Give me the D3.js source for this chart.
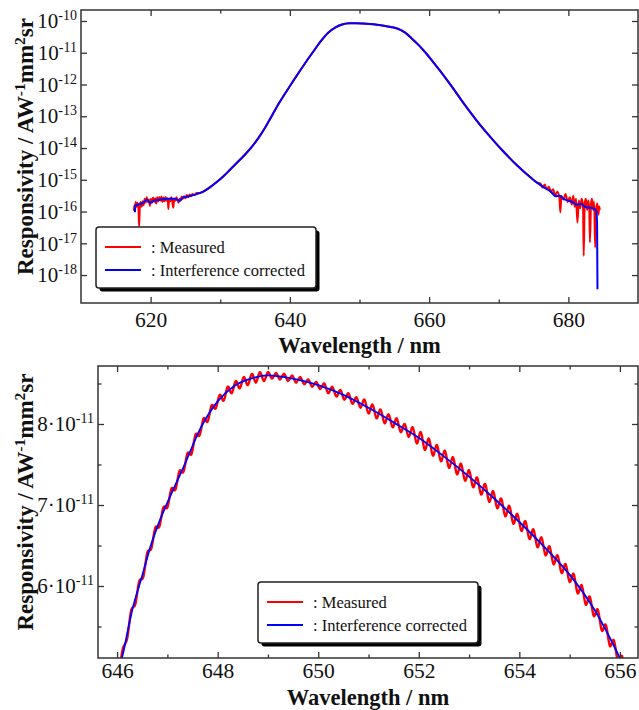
<!DOCTYPE html>
<meta charset="utf-8">
<script src="https://d3js.org/d3.v7.min.js"></script>
<style>
  body { margin: 0; background: #fff; }
  svg { display: block; }
  svg text { font-family: "Liberation Serif", "Times New Roman", serif; }
</style>
<svg id="chart" width="639" height="710"></svg>
<script>
// ---------- upper panel: whole band, log10 of responsivity ----------
var topCorrectedWl = [617.75, 617.8, 618.2, 618.8, 619.5, 619.9, 620.5, 621.5, 622.5, 623.5,
  624.2, 624.6, 625.5, 626.5, 627.5, 628.5, 629.5, 630.5, 631.5, 632.5,
  633.5, 634.5, 635.5, 636.5, 637.5, 638.5, 639.5, 640.5, 641.5, 642.5,
  643.5, 644.5, 645.5, 646.5, 647.5, 648.5, 649.5, 650.5, 651.5, 652.5,
  653.5, 654.5, 655.5, 656.5, 657.5, 658.5, 659.5, 660.5, 661.5, 662.5,
  663.5, 664.5, 665.5, 666.5, 667.5, 668.5, 669.5, 670.5, 671.5, 672.5,
  673.5, 674.5, 675.5, 676.5, 677.5, 678.2, 678.7, 679.3, 680.0, 680.6,
  681.2, 681.8, 682.4, 683.0, 683.6, 684.0, 684.12, 684.18];
var topCorrectedLog = [-16.02, -15.82, -15.78, -15.74, -15.63, -15.72, -15.66, -15.62, -15.6, -15.6,
  -15.66, -15.56, -15.52, -15.46, -15.38, -15.24, -15.07, -14.88, -14.66, -14.44,
  -14.22, -13.97, -13.68, -13.34, -12.95, -12.57, -12.22, -11.88, -11.55, -11.23,
  -10.92, -10.62, -10.37, -10.21, -10.11, -10.072, -10.068, -10.078, -10.096, -10.12,
  -10.15, -10.19, -10.245, -10.36, -10.55, -10.76, -11.0, -11.27, -11.55, -11.84,
  -12.14, -12.45, -12.75, -13.04, -13.32, -13.58, -13.83, -14.07, -14.3, -14.52,
  -14.72, -14.91, -15.09, -15.24, -15.38, -15.52, -15.5, -15.6, -15.66, -15.7,
  -15.78, -15.76, -15.85, -15.88, -15.9, -15.98, -16.35, -18.45];

// measured curve differs from the corrected one only in the noisy wings
var topMeasuredLeftWl = [617.6, 617.65, 617.75, 617.85, 618.0, 618.1, 618.25, 618.35, 618.45, 618.55,
  618.7, 618.85, 619.0, 619.15, 619.3, 619.45, 619.6, 619.75, 619.9, 620.05,
  620.2, 620.35, 620.5, 620.65, 620.8, 620.95, 621.1, 621.25, 621.4, 621.55,
  621.7, 621.85, 622.0, 622.15, 622.3, 622.45, 622.55, 622.65, 622.8, 622.95,
  623.1, 623.25, 623.4, 623.55, 623.7, 623.85, 624.0, 624.15, 624.3, 624.45,
  624.6, 624.8, 625.0, 625.2, 625.4, 625.6, 625.8, 626.0, 626.3, 626.6, 627.0];
var topMeasuredLeftLog = [-15.98, -15.8, -15.95, -15.7, -15.85, -15.72, -15.9, -16.47, -15.85, -15.7,
  -15.85, -15.68, -15.8, -15.6, -15.72, -15.55, -15.7, -15.62, -15.82, -15.6,
  -15.72, -15.56, -15.7, -15.58, -15.75, -15.55, -15.68, -15.54, -15.66, -15.53,
  -15.7, -15.56, -15.68, -15.54, -15.66, -15.58, -15.92, -15.6, -15.68, -15.55,
  -15.65, -15.88, -15.6, -15.66, -15.55, -15.62, -15.72, -15.6, -15.65, -15.53,
  -15.6, -15.52, -15.58, -15.48, -15.55, -15.46, -15.52, -15.45, -15.48, -15.42, -15.42];
var topMeasuredRightWl = [676.0, 676.3, 676.6, 676.9, 677.2, 677.5, 677.8, 678.1, 678.4, 678.7,
  678.85, 679.0, 679.3, 679.6, 679.9, 680.2, 680.5, 680.7, 680.9, 681.1,
  681.3, 681.5, 681.7, 681.9, 682.1, 682.2, 682.35, 682.5, 682.7, 682.85,
  683.0, 683.1, 683.25, 683.4, 683.55, 683.7, 683.85, 684.0, 684.15, 684.3, 684.45, 684.5];
var topMeasuredRightLog = [-15.12, -15.25, -15.15, -15.3, -15.22, -15.38, -15.3, -15.5, -15.38, -15.55,
  -16.03, -15.5, -15.62, -15.45, -15.7, -15.55, -15.78, -15.5, -15.85, -15.6,
  -16.35, -15.65, -15.9, -15.6, -15.8, -17.4, -15.75, -15.6, -15.95, -15.65,
  -15.9, -16.97, -15.75, -15.6, -15.95, -15.7, -17.13, -15.9, -15.75, -16.1, -15.84, -15.95];

var topXTicks = [620, 640, 660, 680];
var topXMinor = [630, 650, 670];
var topYExponents = [-10, -11, -12, -13, -14, -15, -16, -17, -18];

// ---------- lower panel: top of the band, responsivity in units of 1e-11 ----------
var zoomCorrectedWl = [646.04, 646.1, 646.3, 646.5, 646.66, 646.83, 647.0, 647.33, 647.66, 648.0,
  648.33, 648.66, 649.0, 649.33, 649.66, 650.0, 650.5, 651.0, 651.5, 652.0,
  652.5, 653.0, 653.5, 654.0, 654.5, 655.0, 655.5, 656.0, 656.1];
var zoomCorrected = [4.98, 5.12, 5.7, 6.13, 6.48, 6.78, 7.03, 7.48, 7.95, 8.28,
  8.47, 8.56, 8.6, 8.58, 8.54, 8.48, 8.36, 8.2, 8.02, 7.83,
  7.6, 7.35, 7.08, 6.79, 6.48, 6.14, 5.7, 5.11, 4.98];

// fringe maxima / minima of the measured curve
var zoomMeasuredWl = [646.04, 646.12, 646.20, 646.28, 646.36, 646.44, 646.52, 646.60, 646.68, 646.76,
  646.84, 646.92, 647.00, 647.08, 647.16, 647.24, 647.32, 647.40, 647.48, 647.56,
  647.64, 647.72, 647.80, 647.88, 647.96, 648.04, 648.12, 648.20, 648.28, 648.36,
  648.44, 648.52, 648.60, 648.68, 648.76, 648.84, 648.92, 649.00, 649.08, 649.16,
  649.24, 649.32, 649.40, 649.48, 649.56, 649.64, 649.72, 649.80, 649.88, 649.96,
  650.04, 650.12, 650.20, 650.28, 650.36, 650.44, 650.52, 650.60, 650.68, 650.76,
  650.84, 650.92, 651.00, 651.08, 651.16, 651.24, 651.32, 651.40, 651.48, 651.56,
  651.64, 651.72, 651.80, 651.88, 651.96, 652.04, 652.12, 652.20, 652.28, 652.36,
  652.44, 652.52, 652.60, 652.68, 652.76, 652.84, 652.92, 653.00, 653.08, 653.16,
  653.24, 653.32, 653.40, 653.48, 653.56, 653.64, 653.72, 653.80, 653.88, 653.96,
  654.04, 654.12, 654.20, 654.28, 654.36, 654.44, 654.52, 654.60, 654.68, 654.76,
  654.84, 654.92, 655.00, 655.08, 655.16, 655.24, 655.32, 655.40, 655.48, 655.56,
  655.64, 655.72, 655.80, 655.88, 655.96, 656.04, 656.12];
var zoomMeasured = [4.92, 5.24, 5.35, 5.70, 5.77, 6.06, 6.11, 6.41, 6.46, 6.72,
  6.73, 6.97, 6.97, 7.20, 7.19, 7.42, 7.41, 7.64, 7.63, 7.87,
  7.86, 8.07, 8.03, 8.23, 8.19, 8.36, 8.29, 8.46, 8.38, 8.53,
  8.44, 8.58, 8.48, 8.62, 8.51, 8.64, 8.53, 8.64, 8.56, 8.63,
  8.55, 8.62, 8.53, 8.60, 8.51, 8.58, 8.49, 8.55, 8.46, 8.52,
  8.43, 8.50, 8.38, 8.46, 8.34, 8.42, 8.30, 8.38, 8.25, 8.33,
  8.20, 8.30, 8.13, 8.24, 8.07, 8.18, 8.01, 8.12, 7.96, 8.07,
  7.90, 8.00, 7.84, 7.96, 7.76, 7.90, 7.68, 7.82, 7.61, 7.74,
  7.54, 7.67, 7.46, 7.59, 7.38, 7.51, 7.30, 7.43, 7.22, 7.34,
  7.13, 7.26, 7.04, 7.17, 6.96, 7.08, 6.86, 6.99, 6.77, 6.89,
  6.68, 6.80, 6.58, 6.70, 6.48, 6.60, 6.38, 6.49, 6.27, 6.38,
  6.16, 6.27, 6.05, 6.15, 5.91, 6.01, 5.77, 5.87, 5.63, 5.71,
  5.45, 5.52, 5.26, 5.33, 5.07, 5.14, 4.88];

var zoomXTicks = [646, 648, 650, 652, 654, 656];
var zoomXMinor = [647, 649, 651, 653, 655];
var zoomYTicks = [6, 7, 8];
var zoomYMinor = [5.5, 6.5, 7.5, 8.5];

var legendLabels = [": Measured", ": Interference corrected"];
var seriesColors = ["#ff0000", "#0000ff"];

var svg = d3.select("#chart");
var frameColor = "#333";
var serif = "'Liberation Serif', 'Times New Roman', serif";

// the two plot frames
var topBox = {left: 81, right: 638, top: 10, bottom: 303};
var botBox = {left: 98, right: 638, top: 366, bottom: 658};

var xTop = d3.scaleLinear().domain([610, 690]).range([topBox.left, topBox.right]);
var yTop = d3.scaleLog().domain([Math.pow(10, -18.88), Math.pow(10, -9.654)]).range([topBox.bottom, topBox.top]);
var xBot = d3.scaleLinear().domain([645.62, 656.36]).range([botBox.left, botBox.right]);
var yBot = d3.scaleLinear().domain([5.111, 8.716]).range([botBox.bottom, botBox.top]);

function clip(id, b) {
  svg.append("clipPath").attr("id", id).append("rect")
    .attr("x", b.left).attr("y", b.top)
    .attr("width", b.right - b.left).attr("height", b.bottom - b.top);
}
clip("clipTop", topBox);
clip("clipBot", botBox);

// ----- curves, upper panel -----
var corrTop = topCorrectedWl.map(function(w, i) { return [w, Math.pow(10, topCorrectedLog[i])]; });
var measTop = topMeasuredLeftWl.map(function(w, i) { return [w, Math.pow(10, topMeasuredLeftLog[i])]; })
  .concat(corrTop.filter(function(d) { return d[0] > 627.2 && d[0] < 675.8; }))
  .concat(topMeasuredRightWl.map(function(w, i) { return [w, Math.pow(10, topMeasuredRightLog[i])]; }));

var lineTop = d3.line().x(function(d) { return xTop(d[0]); }).y(function(d) { return yTop(d[1]); })
  .curve(d3.curveMonotoneX);

var gTop = svg.append("g").attr("clip-path", "url(#clipTop)");
gTop.append("path").datum(measTop).attr("d", lineTop)
  .attr("fill", "none").attr("stroke", seriesColors[0]).attr("stroke-width", 2).attr("stroke-linejoin", "round");
gTop.append("path").datum(corrTop).attr("d", lineTop)
  .attr("fill", "none").attr("stroke", seriesColors[1]).attr("stroke-width", 2).attr("stroke-linejoin", "round");

// ----- curves, lower panel -----
var corrBot = zoomCorrectedWl.map(function(w, i) { return [w, zoomCorrected[i]]; });
var measBot = zoomMeasuredWl.map(function(w, i) { return [w, zoomMeasured[i]]; });

var gBot = svg.append("g").attr("clip-path", "url(#clipBot)");
gBot.append("path").datum(measBot)
  .attr("d", d3.line().x(function(d) { return xBot(d[0]); }).y(function(d) { return yBot(d[1]); }).curve(d3.curveNatural))
  .attr("fill", "none").attr("stroke", seriesColors[0]).attr("stroke-width", 2.4);
gBot.append("path").datum(corrBot)
  .attr("d", d3.line().x(function(d) { return xBot(d[0]); }).y(function(d) { return yBot(d[1]); }).curve(d3.curveMonotoneX))
  .attr("fill", "none").attr("stroke", seriesColors[1]).attr("stroke-width", 1.8);

// ----- axes -----
function ticks(axis, transform) {
  var g = svg.append("g").attr("transform", transform).call(axis);
  g.select(".domain").remove();
  g.selectAll(".tick line").attr("stroke", frameColor).attr("stroke-width", 1.3);
  g.attr("font-family", serif).attr("font-size", null);
  return g;
}

function panelAxes(b, x, y, xMajor, xMinor, yMajor, yMinor, yLabel, xPad) {
  // bottom, labelled
  var gx = ticks(d3.axisBottom(x).tickValues(xMajor).tickSizeInner(-6).tickSizeOuter(0).tickPadding(xPad),
    "translate(0," + b.bottom + ")");
  gx.selectAll("text").attr("font-size", 21.5).attr("fill", "#111");
  ticks(d3.axisBottom(x).tickValues(xMinor).tickSizeInner(-3.5).tickSizeOuter(0).tickFormat(""),
    "translate(0," + b.bottom + ")");
  // top
  ticks(d3.axisTop(x).tickValues(xMajor).tickSizeInner(-6).tickSizeOuter(0).tickFormat(""),
    "translate(0," + b.top + ")");
  ticks(d3.axisTop(x).tickValues(xMinor).tickSizeInner(-3.5).tickSizeOuter(0).tickFormat(""),
    "translate(0," + b.top + ")");
  // left, labelled
  var gy = ticks(d3.axisLeft(y).tickValues(yMajor).tickSizeInner(-6).tickSizeOuter(0).tickPadding(4),
    "translate(" + b.left + ",0)");
  gy.selectAll("text").attr("font-size", 21).attr("fill", "#111").each(function(d) {
    var t = d3.select(this).text("");
    var parts = yLabel(d);
    t.append("tspan").text(parts[0]);
    t.append("tspan").attr("font-size", 14).attr("dy", -8).text(parts[1]);
  });
  // right
  ticks(d3.axisRight(y).tickValues(yMajor).tickSizeInner(-6).tickSizeOuter(0).tickFormat(""),
    "translate(" + b.right + ",0)");
  if (yMinor) {
    ticks(d3.axisLeft(y).tickValues(yMinor).tickSizeInner(-3.5).tickSizeOuter(0).tickFormat(""),
      "translate(" + b.left + ",0)");
    ticks(d3.axisRight(y).tickValues(yMinor).tickSizeInner(-3.5).tickSizeOuter(0).tickFormat(""),
      "translate(" + b.right + ",0)");
  }
  // frame
  svg.append("rect").attr("x", b.left).attr("y", b.top)
    .attr("width", b.right - b.left).attr("height", b.bottom - b.top)
    .attr("fill", "none").attr("stroke", frameColor).attr("stroke-width", 1.5);
}

panelAxes(topBox, xTop, yTop, topXTicks, topXMinor,
  topYExponents.map(function(e) { return Math.pow(10, e); }), null,
  function(d) { return ["10", String(Math.round(Math.log10(d)))]; }, 9);

panelAxes(botBox, xBot, yBot, zoomXTicks, zoomXMinor, zoomYTicks, zoomYMinor,
  function(d) { return [d + "\u00b710", "-11"]; }, 5);

// ----- axis titles -----
function xTitle(b, baseline) {
  svg.append("text").attr("x", (b.left + b.right) / 2).attr("y", baseline)
    .attr("text-anchor", "middle").attr("font-weight", "bold").attr("font-size", 22.5).attr("fill", "#111")
    .text("Wavelength / nm");
}
function yTitle(b) {
  var t = svg.append("text")
    .attr("transform", "translate(33," + ((b.top + b.bottom) / 2 - 10) + ") rotate(-90)")
    .attr("text-anchor", "middle").attr("font-weight", "bold").attr("font-size", 23).attr("fill", "#111");
  t.append("tspan").text("Responsivity / AW");
  t.append("tspan").attr("font-size", 15.5).attr("dy", -8).text("-1");
  t.append("tspan").attr("dy", 8).text("mm");
  t.append("tspan").attr("font-size", 15.5).attr("dy", -8).text("2");
  t.append("tspan").attr("dy", 8).text("sr");
}
xTitle(topBox, 352.5);
xTitle(botBox, 705);
yTitle(topBox);
yTitle(botBox);

// ----- legends -----
function legend(x, y) {
  var w = 220, h = 61;
  svg.append("rect").attr("x", x + 3.5).attr("y", y + 3.5).attr("width", w).attr("height", h)
    .attr("rx", 3).attr("fill", "#000");
  svg.append("rect").attr("x", x).attr("y", y).attr("width", w).attr("height", h)
    .attr("rx", 3).attr("fill", "#fff").attr("stroke", "#222").attr("stroke-width", 1.5);
  legendLabels.forEach(function(lab, i) {
    var ly = y + 20 + i * 23;
    svg.append("line").attr("x1", x + 9).attr("x2", x + 45).attr("y1", ly).attr("y2", ly)
      .attr("stroke", seriesColors[i]).attr("stroke-width", 2);
    svg.append("text").attr("x", x + 55).attr("y", ly + 6).attr("font-size", 16.5).attr("fill", "#111")
      .text(lab);
  });
}
legend(96, 227);
legend(258, 582);
</script>
